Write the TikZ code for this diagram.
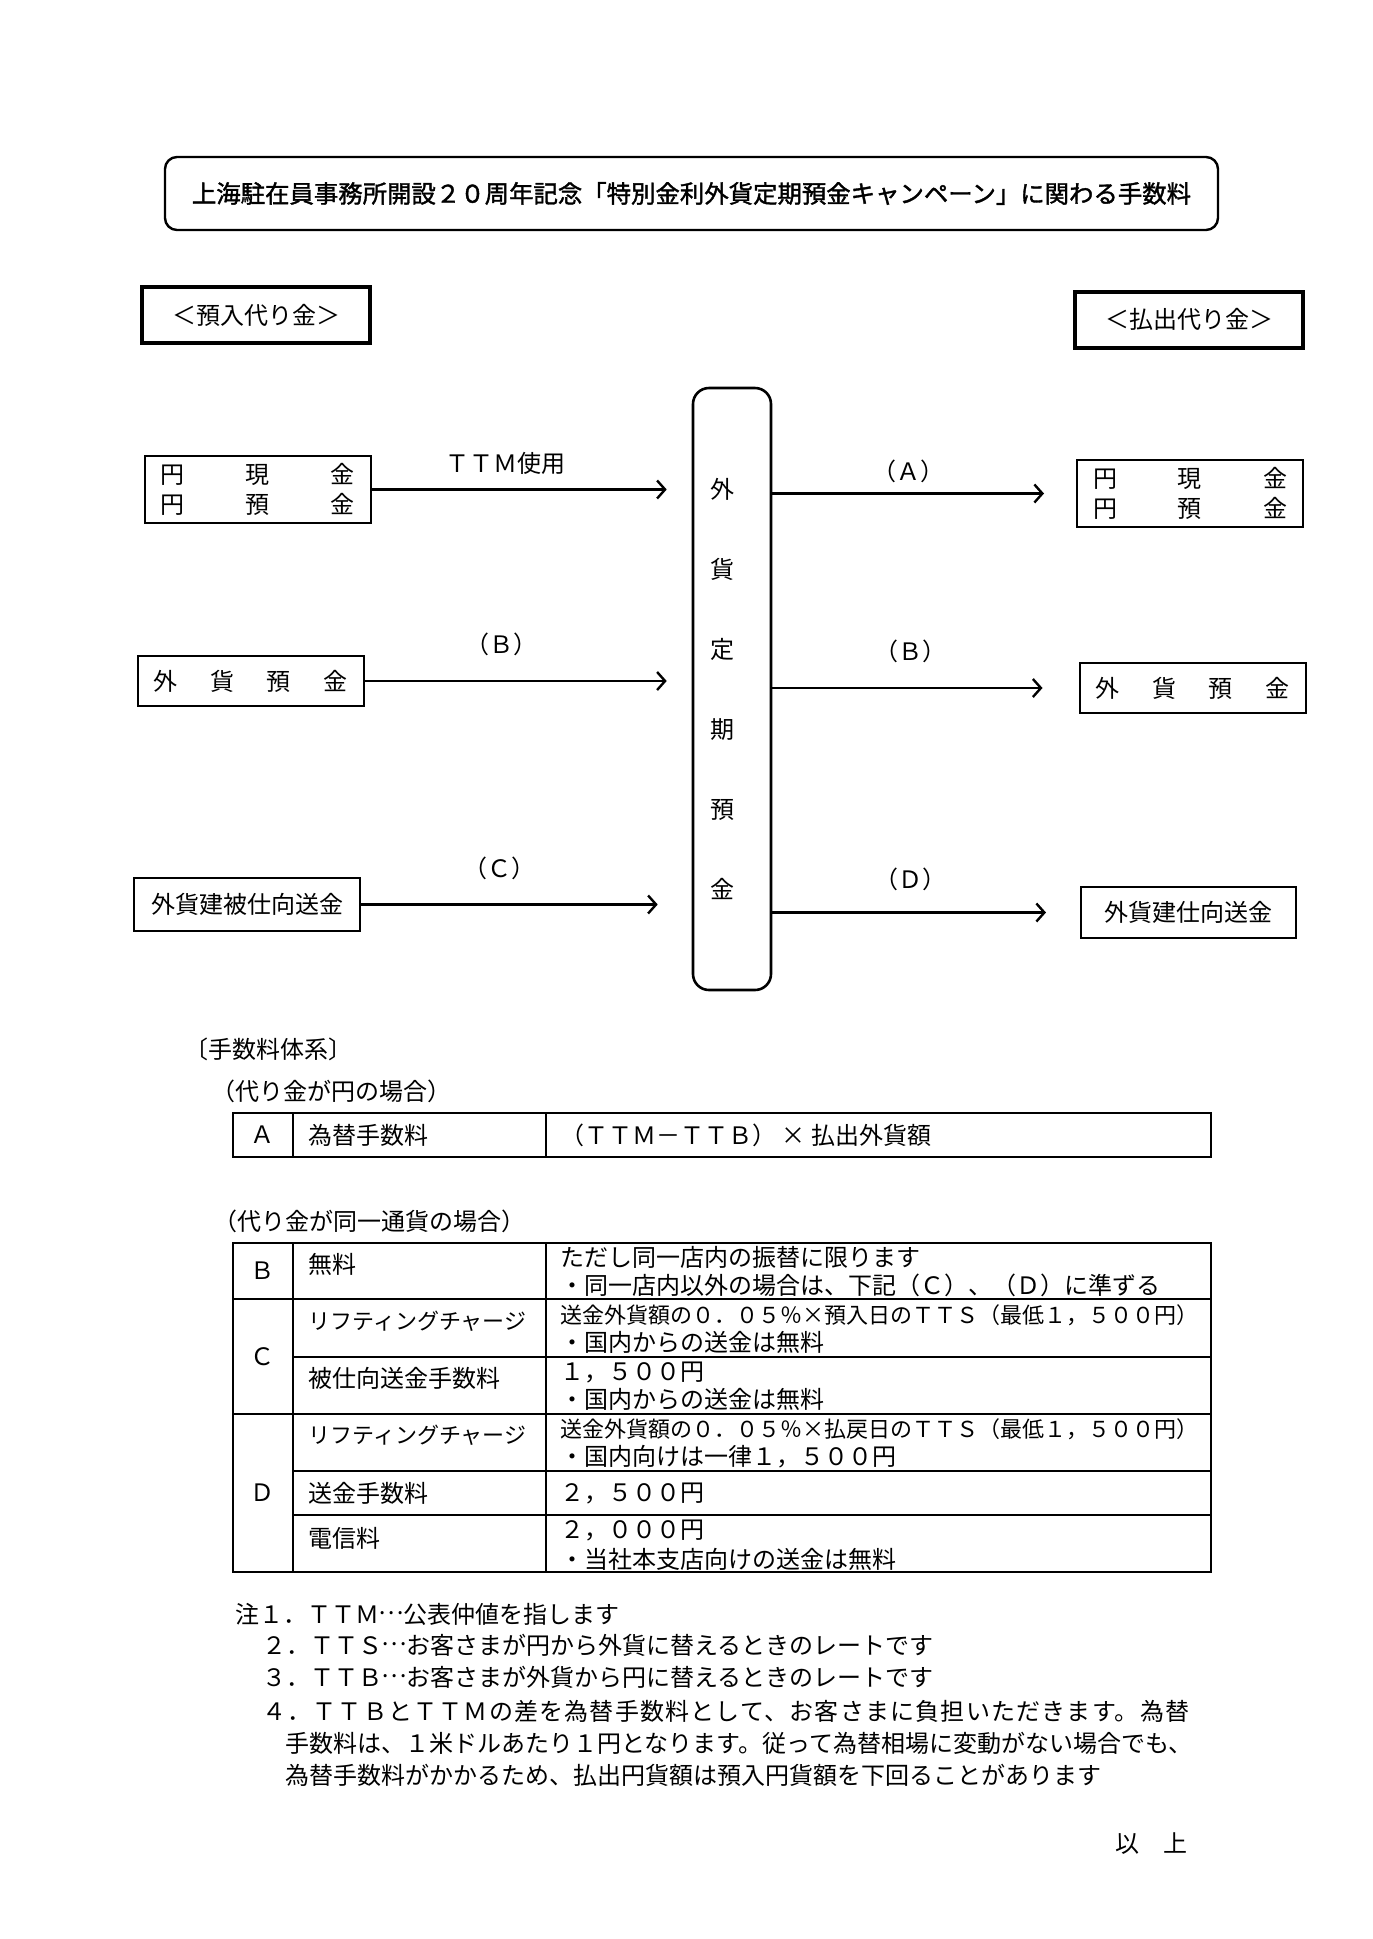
\documentclass[tikz,border=0pt]{standalone}
\usepackage{fontspec}
\setmainfont{Noto Sans CJK JP}
\usetikzlibrary{arrows.meta}
\newcommand{\jsize}[1]{\fontsize{#1}{#1}\selectfont}
\newcommand{\tendots}{\makebox[1em]{\raisebox{.36em}{…}}}

\begin{document}
\begin{tikzpicture}[x=0.5pt,y=-0.5pt,
  every node/.style={font=\jsize{12pt}},
  txt/.style={anchor=west, inner sep=0pt},
  headbox/.style={draw, line width=2pt, minimum width=114pt, minimum height=28pt},
  flowbox/.style={draw, line width=1pt, minimum width=113pt, text width=97pt, align=left, inner xsep=8pt},
  flow/.style={line width=1.2pt, -{Straight Barb[length=4pt,width=9pt]}},
  flowlabel/.style={inner sep=0pt},
  rule/.style={line width=1pt}]

\useasboundingbox (0,0) rectangle (1372,1939);

\node[draw, rounded corners=6pt, line width=1.2pt, minimum width=526.5pt, minimum height=36.5pt] (title) at (691.5,193.5)
  {\jsize{12.2pt}\addfontfeature{FakeBold=1.5}上海駐在員事務所開設２０周年記念「特別金利外貨定期預金キャンペーン」に関わる手数料};

\node[headbox] (inHead)  at (256,315)    {\raisebox{-1.5pt}{＜預入代り金＞}};
\node[headbox] (outHead) at (1189,319.5) {\raisebox{-1.5pt}{＜払出代り金＞}};

\node[draw, line width=1.3pt, rounded corners=8pt, minimum width=39pt, minimum height=301pt,
      text width=22pt, align=left, inner xsep=8.5pt,
      font=\fontsize{12pt}{40pt}\selectfont] (teiki) at (732,689) {外\\貨\\定\\期\\預\\金};

% 預入側
\node[flowbox, minimum height=33.5pt, font=\fontsize{12pt}{15pt}\selectfont] (yenIn) at (257.5,489.5)
  {円\hfill 現\hfill 金\\円\hfill 預\hfill 金};
\node[flowbox, minimum height=25pt] (fxIn) at (250.5,681) {外\hfill 貨\hfill 預\hfill 金};
\node[flowbox, minimum height=26.5pt, align=center] (remitIn) at (247,904.5) {外貨建被仕向送金};

% 払出側
\node[flowbox, minimum height=33.5pt, font=\fontsize{12pt}{15pt}\selectfont] (yenOut) at (1190,493.5)
  {円\hfill 現\hfill 金\\円\hfill 預\hfill 金};
\node[flowbox, minimum height=25pt] (fxOut) at (1192.5,688) {外\hfill 貨\hfill 預\hfill 金};
\node[flowbox, minimum width=107.5pt, text width=91pt, minimum height=25.5pt, align=center] (remitOut) at (1188.5,912.5) {外貨建仕向送金};

\draw[flow, shorten >=12.5pt] (yenIn.east) -- (yenIn.east -| teiki.west)
  node[flowlabel, pos=0.42, above=7pt] (lblTTM) {ＴＴＭ使用};
\draw[flow, shorten >=12.5pt] (fxIn.east) -- (fxIn.east -| teiki.west)
  node[flowlabel, pos=0.42, above=12pt] (lblBin) {（Ｂ）};
\draw[flow, shorten >=17pt] (remitIn.east) -- (remitIn.east -| teiki.west)
  node[flowlabel, pos=0.42, above=12pt] (lblC) {（Ｃ）};

\draw[flow, shorten >=16pt] (teiki.east |- yenOut.west) -- (yenOut.west)
  node[flowlabel, pos=0.45, above=5pt] (lblA) {（Ａ）};
\draw[flow, shorten >=18pt] (teiki.east |- fxOut.west) -- (fxOut.west)
  node[flowlabel, pos=0.45, above=12pt] (lblBout) {（Ｂ）};
\draw[flow, shorten >=17pt] (teiki.east |- remitOut.west) -- (remitOut.west)
  node[flowlabel, pos=0.45, above=10.5pt] (lblD) {（Ｄ）};

% 手数料体系
\node[txt] (hdFee)  at (184,1049) {〔手数料体系〕};
\node[txt] (hdYen)  at (211,1091) {（代り金が円の場合）};
\node[txt] (hdSame) at (213,1221) {（代り金が同一通貨の場合）};

\draw[rule] (233,1113) rectangle (1211,1157);
\draw[rule] (293,1113) -- (293,1157) (546,1113) -- (546,1157);
\node[inner sep=0pt] (cA) at (262,1135) {Ａ};
\node[txt] (feeA) at (308,1135) {為替手数料};
\node[txt] (calcA) at (560,1135) {（ＴＴＭ－ＴＴＢ）~×~払出外貨額};

\draw[rule] (233,1243) rectangle (1211,1572);
\draw[rule] (293,1243) -- (293,1572) (546,1243) -- (546,1572);
\draw[rule] (233,1299) -- (1211,1299) (233,1414) -- (1211,1414);
\foreach \ry in {1357,1471,1515}
  \draw[rule] (293,\ry) -- (1211,\ry);

\node[inner sep=0pt] (cB) at (262,1271) {Ｂ};
\node[inner sep=0pt] (cC) at (262,1357) {Ｃ};
\node[inner sep=0pt] (cD) at (262,1493) {Ｄ};

\node[txt] (feeB)  at (308,1264) {無料};
\node[txt, font=\jsize{11pt}] (feeC1) at (308,1321) {リフティングチャージ};
\node[txt] (feeC2) at (308,1378) {被仕向送金手数料};
\node[txt, font=\jsize{11pt}] (feeD1) at (308,1435) {リフティングチャージ};
\node[txt] (feeD2) at (308,1493) {送金手数料};
\node[txt] (feeD3) at (308,1538) {電信料};

\node[txt] (noteB1)  at (560,1257) {ただし同一店内の振替に限ります};
\node[txt] (noteB2)  at (560,1285) {・同一店内以外の場合は、下記（Ｃ）、（Ｄ）に準ずる};
\node[txt, font=\jsize{11pt}] (noteC1) at (560,1315) {送金外貨額の０．０５％×預入日のＴＴＳ（最低１，５００円）};
\node[txt] (noteC1b) at (560,1342) {・国内からの送金は無料};
\node[txt] (noteC2)  at (560,1373) {１，５００円};
\node[txt] (noteC2b) at (560,1399) {・国内からの送金は無料};
\node[txt, font=\jsize{11pt}] (noteD1) at (560,1429) {送金外貨額の０．０５％×払戻日のＴＴＳ（最低１，５００円）};
\node[txt] (noteD1b) at (560,1457) {・国内向けは一律１，５００円};
\node[txt] (noteD2)  at (560,1493) {２，５００円};
\node[txt] (noteD3)  at (560,1530) {２，０００円};
\node[txt] (noteD3b) at (560,1559) {・当社本支店向けの送金は無料};

% 注
\node[txt] (n1)  at (235,1614) {注１．ＴＴＭ\tendots 公表仲値を指します};
\node[txt] (n2)  at (262,1645) {２．ＴＴＳ\tendots お客さまが円から外貨に替えるときのレートです};
\node[txt] (n3)  at (262,1677) {３．ＴＴＢ\tendots お客さまが外貨から円に替えるときのレートです};
\node[txt, font=\jsize{12pt}\addfontfeature{LetterSpace=5}] (n4) at (262,1711)
  {４．ＴＴＢとＴＴＭの差を為替手数料として、お客さまに負担いただきます。為替};
\node[txt] (n4b) at (285,1743) {手数料は、１米ドルあたり１円となります。従って為替相場に変動がない場合でも、};
\node[txt] (n4c) at (285,1775) {為替手数料がかかるため、払出円貨額は預入円貨額を下回ることがあります};

\node[inner sep=0pt] (ijo) at (1151,1844) {以　上};
\end{tikzpicture}
\end{document}
